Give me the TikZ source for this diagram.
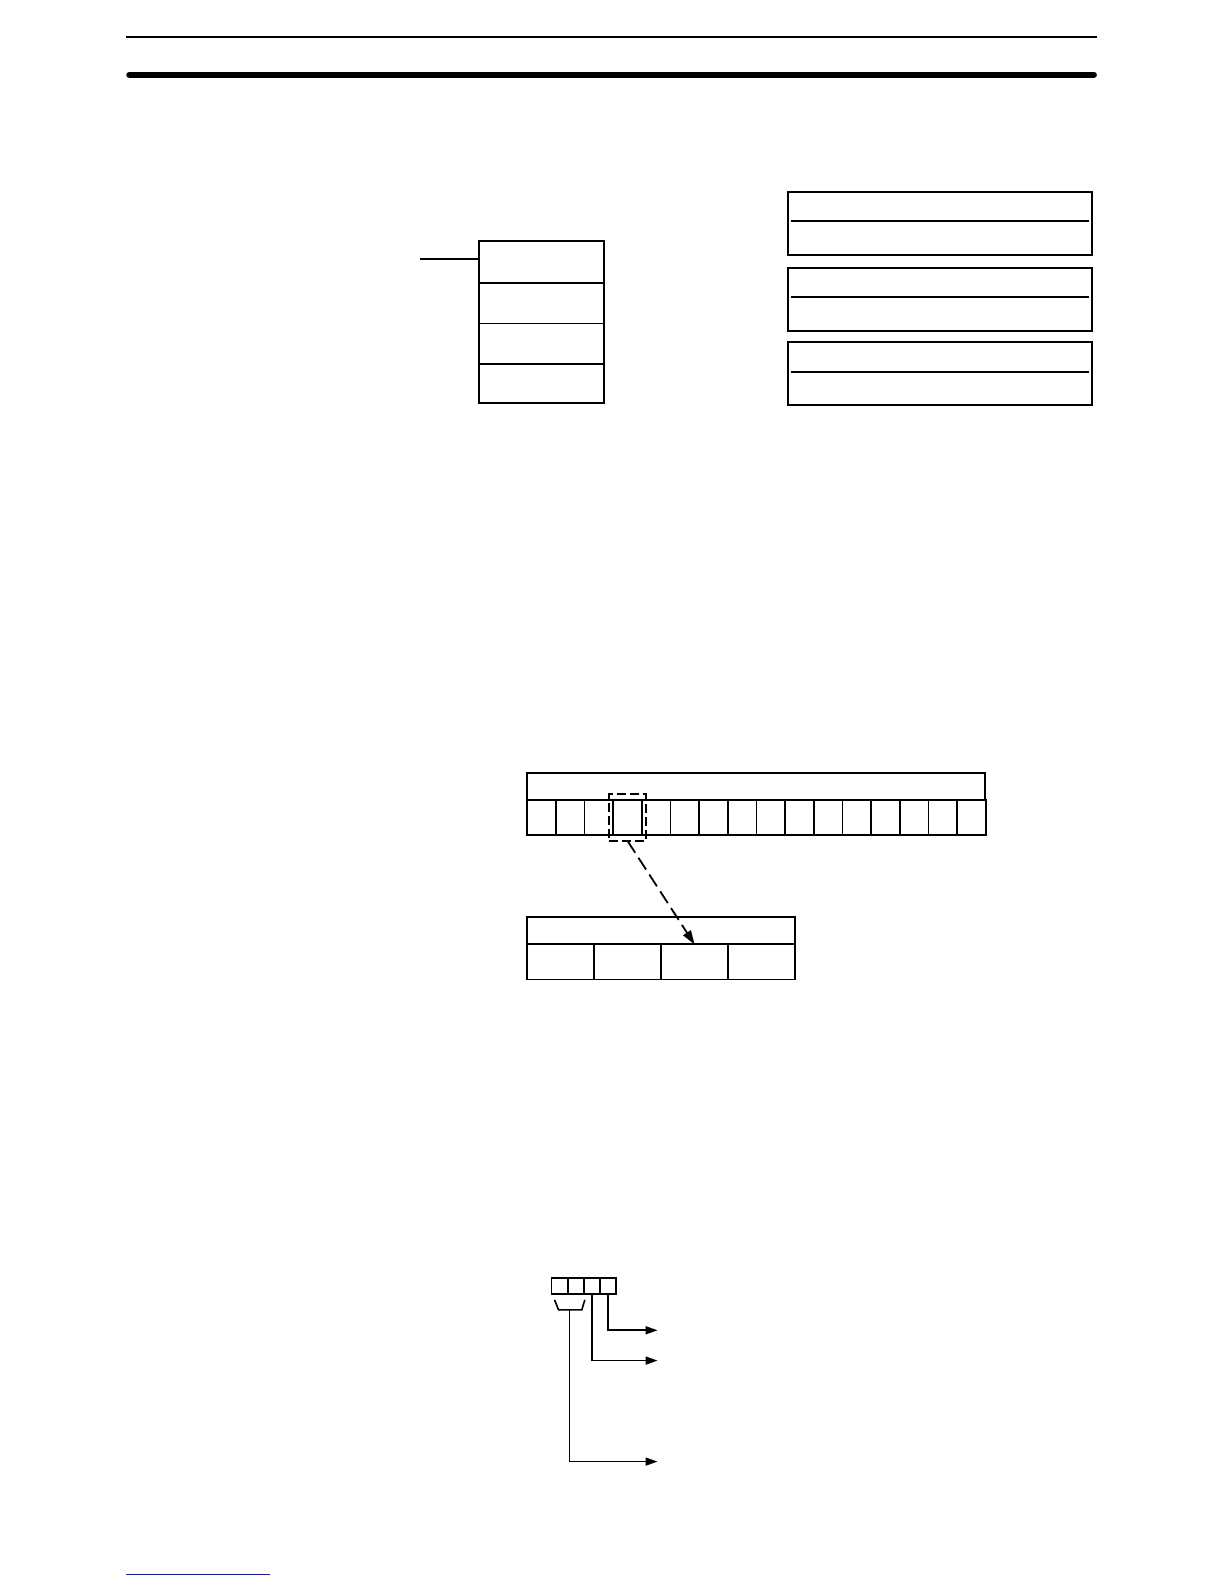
\documentclass[tikz,border=0pt]{standalone}
\usepackage{tikz}
\usetikzlibrary{arrows.meta,positioning}
\definecolor{linkblue}{RGB}{28,28,140}

\begin{document}
\begin{tikzpicture}[x=1.0101pt,y=-1.0101pt,
    box/.style={draw,line width=2pt,inner sep=0,outer sep=0,anchor=north west},
    cellbox/.style={draw,line width=1.8pt,inner sep=0,outer sep=0,anchor=north west},
    selbox/.style={draw,line width=1.8pt,dash pattern=on 9pt off 4pt,inner sep=0,outer sep=0,
        minimum width=37pt,minimum height=47pt},
    tip/.style={-{Triangle[length=12pt,width=8pt]}}]
    \pgfmathsetmacro{\bitwidth}{28.375}
    \pgfmathsetmacro{\digitwidth}{66.25}
    \pgfmathsetmacro{\nibblewidth}{16}
    \useasboundingbox (0,0) rectangle (1211.8,1568.2);
    % page rules
    \draw[line width=2pt] (125,37) -- (1086,37);
    \draw[line width=6pt,line cap=round] (128,74) -- (1083,74);
    % instruction block
    \node[box,minimum width=125pt,minimum height=162pt] (ladder) at (474,239) {};
    \draw[line width=2pt] (474,280) -- (598,280);
    \draw[line width=1.2pt] (474,320) -- (598,320);
    \draw[line width=2pt] (474,360) -- (598,360);
    \coordinate (in) at (416,256);
    \draw[line width=2pt] (in) -- (in -| ladder.west);
    % operand areas
    \foreach \i/\y/\w in {1/190/2pt,2/265/1.2pt,3/339/2pt}{
        \node[box,minimum width=304pt,minimum height=63pt] (area\i) at (780,\y) {};
        \draw[line width=\w] ([shift={(3,29)}]area\i.north west) -- ([shift={(-3,29)}]area\i.north east);
    }
    % word with 16 bits
    \node[box,minimum width=458pt,minimum height=27pt] (wordhead) at (522,765) {};
    \foreach \i in {1,...,16}
        \node[cellbox,minimum width=1.0101*\bitwidth pt,minimum height=35pt] (bit\i) at ({522+(\i-1)*\bitwidth},792) {};
    \node[selbox] (sel) at (bit4.center) {};
    % four digits
    \node[box,minimum width=268pt,minimum height=27pt] (digithead) at (522,908) {};
    \foreach \i in {1,...,4}
        \node[cellbox,minimum width=1.0101*\digitwidth pt,minimum height=35pt] (digit\i) at ({522+(\i-1)*\digitwidth},935) {};
    \draw[-{Triangle[length=14pt,width=9pt]},line width=1.8pt,dash pattern=on 14pt off 6pt] (sel.south) -- (digit3.north);
    % control data digits
    \foreach \i in {1,...,4}
        \node[cellbox,minimum width=1.0101*\nibblewidth pt,minimum height=16pt] (nib\i) at ({546+(\i-1)*\nibblewidth},1265) {};
    \draw[line width=1.6pt] ([shift={(3,6)}]nib1.south west) -- ++(4,10) -- ++(23,0) -- ++(3,-10);
    \coordinate (brk) at ([shift={(18,16)}]nib1.south west);
    \coordinate (out1) at (651,1317);
    \coordinate (out2) at (651,1347);
    \coordinate (out3) at (651,1447);
    \draw[tip,line width=1.6pt] (nib4.south) |- (out1);
    \draw[tip,line width=1.6pt] (nib3.south) |- (out2);
    \draw[tip,line width=1.6pt] (brk) |- (out3);
    % footer rule
    \draw[linkblue,line width=1.5pt] (125,1559) -- (267,1559);
\end{tikzpicture}
\end{document}
